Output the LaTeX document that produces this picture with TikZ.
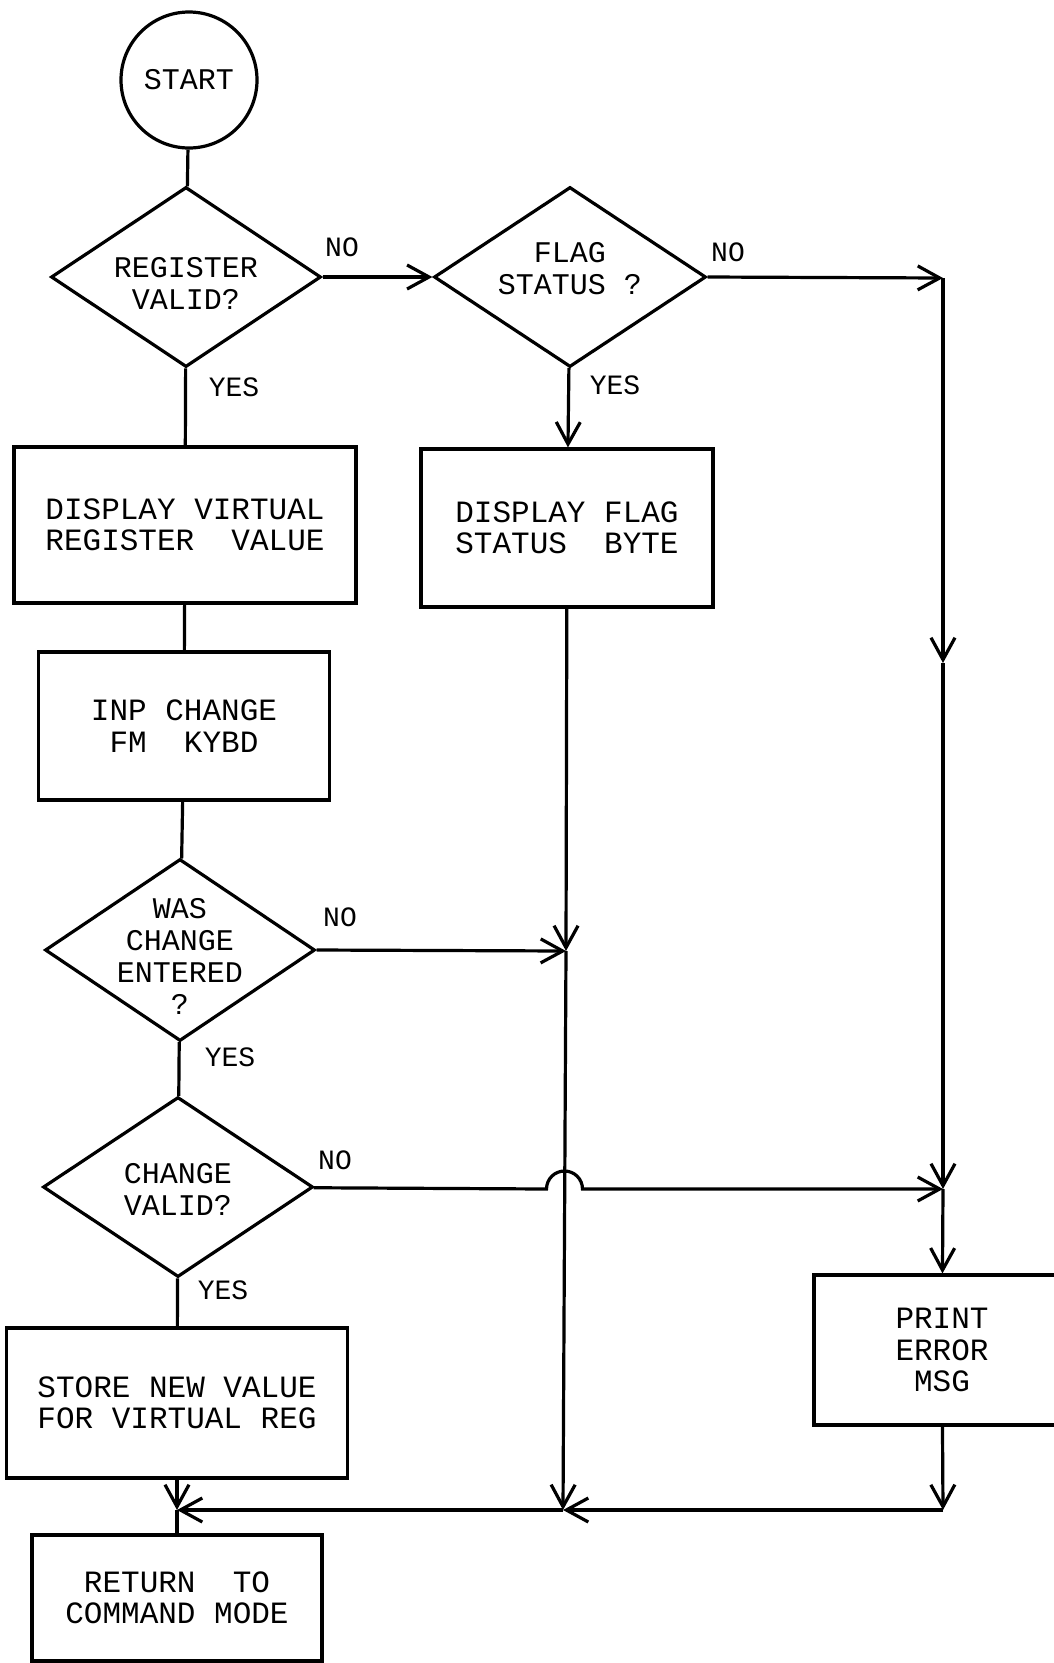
\documentclass[tikz,border=0pt]{standalone}
\usepackage{fontspec}
\setmonofont{Liberation Mono}
\usetikzlibrary{shapes.geometric,arrows.meta,positioning}

\begin{document}
\begin{tikzpicture}[
        x=1pt, y=-1pt,
        line width=3.2pt,
        term/.style={
            circle, draw=black, minimum size=136pt, inner sep=0pt,
            font=\ttfamily\fontsize{30}{32}\selectfont
        },
        decision/.style={
            diamond, draw=black, minimum width=270pt, minimum height=180pt,
            inner sep=0pt
        },
        qtext/.style={
            align=center, inner sep=0pt,
            font=\ttfamily\fontsize{30}{32}\selectfont
        },
        proc/.style={
            rectangle, draw=black, align=center, inner sep=0pt,
            font=\ttfamily\fontsize{31}{31.5}\selectfont
        },
        lbl/.style={inner sep=0pt, font=\ttfamily\fontsize{28}{28}\selectfont},
        arr/.style={-{Straight Barb[length=22pt,width=24pt]}}
    ]
    \useasboundingbox (0,0) rectangle (1054,1663);
    \clip (0,0) rectangle (1054,1663);

    % Start
    \node[term] (start) at (189,80) {START};

    % Decisions
    \node[decision] (q1) at (186,277) {};
    \node[decision, minimum width=272pt] (q2) at (570,277) {};
    \node[decision, minimum height=182pt] (q3) at (180,950) {};
    \node[decision] (q4) at (178,1187) {};
    \node[qtext] (q1t) at (186,283) {REGISTER\\VALID?};
    \node[qtext] (q2t) at (570,269) {FLAG\\STATUS ?};
    \node[qtext] (q3t) at (180,956) {WAS\\CHANGE\\ENTERED\\?};
    \node[qtext] (q4t) at (178,1189) {CHANGE\\VALID?};

    % Boxes
    \node[proc, minimum width=342pt, minimum height=156pt] (b1) at (185,525) {DISPLAY VIRTUAL\\REGISTER~~VALUE};
    \node[proc, minimum width=291pt, minimum height=148pt] (b2) at (184,726) {INP CHANGE\\FM~~KYBD};
    \node[proc, minimum width=292pt, minimum height=158pt] (b3) at (567,528) {DISPLAY FLAG\\STATUS~~BYTE};
    \node[proc, minimum width=256pt, minimum height=150pt] (b4) at (942,1350) {PRINT\\ERROR\\MSG};
    \node[proc, minimum width=341pt, minimum height=150pt] (b5) at (177,1403) {STORE NEW VALUE\\FOR VIRTUAL REG};
    \node[proc, minimum width=290pt, minimum height=126pt] (b6) at (177,1598) {RETURN~~TO\\COMMAND MODE};

    % Branch labels
    \node[lbl] (no1) at (342,247) {NO};
    \node[lbl] (yes1) at (234,387) {YES};
    \node[lbl] (no2) at (728,252) {NO};
    \node[lbl] (yes2) at (615,385) {YES};
    \node[lbl] (no3) at (340,917) {NO};
    \node[lbl] (yes3) at (230,1057) {YES};
    \node[lbl] (no4) at (335,1160) {NO};
    \node[lbl] (yes4) at (223,1290) {YES};

    % Junctions
    \coordinate (j1) at (177,1510);
    \coordinate (j2) at (566,951);
    \coordinate (j3) at (563,1510);
    \coordinate (r1) at (943,278);
    \coordinate (r2) at (943,663);
    \coordinate (r3) at (943,1189);
    \coordinate (r4) at (943,1510);
    \coordinate (h1) at (546.5,1189);

    % Main column
    \draw (start) -- (q1);
    \draw (q1) -- (b1);
    \draw (b1) -- (b2);
    \draw (b2) -- (q3);
    \draw (q3) -- (q4);
    \draw (q4) -- (b5);
    \draw[arr] (b5) -- (j1);
    \draw (j1) -- (b6);

    % Flag column
    \draw[arr] (q1) -- (q2);
    \draw[arr] (q2) -- (b3);
    \draw[arr] (b3) -- (j2);
    \draw[arr] (q3.east) -- (j2);
    \draw[arr] (j2) -- (j3);

    % Error column
    \draw[arr] (q2.east) -- (r1);
    \draw[arr] (r1) -- (r2);
    \draw[arr] (r2) -- (r3);
    \draw[arr] (q4) -- (h1) arc[start angle=180, end angle=0, radius=18pt] -- (r3);
    \draw[arr] (r3) -- (b4);
    \draw[arr] (b4) -- (r4);

    % Back to command mode
    \draw[arr] (r4) -- (j3);
    \draw[arr] (j3) -- (j1);
\end{tikzpicture}
\end{document}
